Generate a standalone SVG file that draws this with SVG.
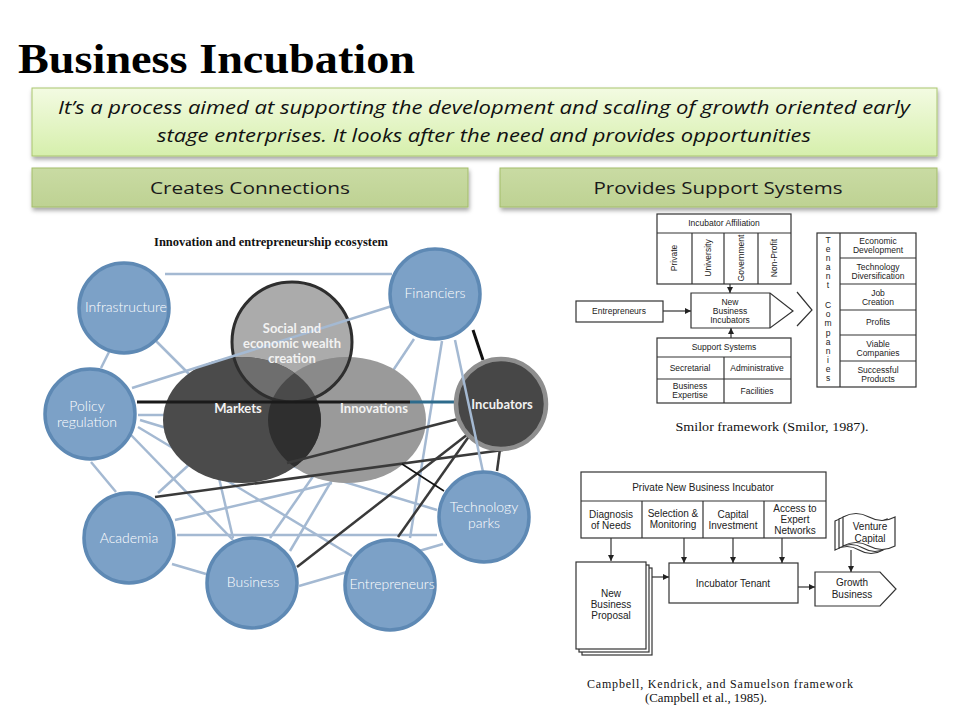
<svg xmlns="http://www.w3.org/2000/svg" width="960" height="720" viewBox="0 0 960 720">
<defs>
<linearGradient id="gBox" x1="0" y1="0" x2="0" y2="1">
<stop offset="0" stop-color="#f3fbe2"/>
<stop offset="1" stop-color="#d6efac"/>
</linearGradient>
<linearGradient id="gBtn" x1="0" y1="0" x2="0" y2="1">
<stop offset="0" stop-color="#c9dba3"/>
<stop offset="1" stop-color="#bed293"/>
</linearGradient>
<filter id="sh" x="-5%" y="-20%" width="110%" height="150%">
<feDropShadow dx="1" dy="3" stdDeviation="2" flood-color="#000" flood-opacity="0.35"/>
</filter>
<clipPath id="clipMk"><ellipse cx="242" cy="420" rx="79" ry="63"/></clipPath>
<clipPath id="clipSo"><circle cx="292" cy="342" r="61"/></clipPath>
<marker id="ah" viewBox="0 0 6 6" refX="6" refY="3" markerWidth="5" markerHeight="5" orient="auto">
<path d="M0,0 L6,3 L0,6 Z" fill="#222"/>
</marker>
<style>
.hd{font-family:"Liberation Serif","Times New Roman",serif;font-weight:bold;fill:#000}
.it{font-family:"Open Sans","Liberation Sans",sans-serif;font-style:italic;font-size:18px;fill:#111;text-anchor:middle}
.bt{font-family:"Open Sans","Liberation Sans",sans-serif;font-size:17px;fill:#1a1a1a;text-anchor:middle}
.lb{stroke:#a4b9d2;stroke-width:2.5;fill:none}
.dk{stroke:#3a3a3a;stroke-width:2.5;fill:none}
.nd{fill:#7ca1c7;stroke:#5e89b4;stroke-width:3.5}
.nt{font-family:"Lato","Open Sans",sans-serif;font-weight:300;font-size:14px;fill:#fff;text-anchor:middle}
.vt{font-family:"Lato","Open Sans",sans-serif;font-weight:bold;font-size:13px;fill:#f2f2f2;text-anchor:middle}
.bx{fill:#fff;stroke:#333;stroke-width:1.2}
.ln{stroke:#333;stroke-width:1.2;fill:none}
.sm{font-family:"Liberation Sans",Arial,sans-serif;font-size:8.5px;fill:#222;text-anchor:middle}
.cb{font-family:"Liberation Sans",Arial,sans-serif;font-size:10px;fill:#222;text-anchor:middle}
.cap{font-family:"Liberation Serif","Times New Roman",serif;font-size:12px;fill:#111;text-anchor:middle}
</style>
</defs>
<rect width="960" height="720" fill="#fff"/>

<g id="title">
<text class="hd" x="18" y="73" font-size="42" textLength="397" lengthAdjust="spacingAndGlyphs">Business Incubation</text>
</g>

<g id="definition">
<rect x="32" y="88" width="905" height="68" fill="url(#gBox)" stroke="#a9c56f" stroke-width="1" filter="url(#sh)"/>
<text class="it" x="484" y="114" textLength="852" lengthAdjust="spacingAndGlyphs">It’s a process aimed at supporting the development and scaling of growth oriented early</text>
<text class="it" x="484" y="142" textLength="654" lengthAdjust="spacingAndGlyphs">stage enterprises. It looks after the need and provides opportunities</text>
</g>

<g id="btn-connections">
<rect x="32" y="168" width="436" height="39" fill="url(#gBtn)" stroke="#a3bd6a" stroke-width="1" filter="url(#sh)"/>
<text class="bt" x="250" y="194" textLength="200" lengthAdjust="spacingAndGlyphs">Creates Connections</text>
</g>
<g id="btn-support">
<rect x="500" y="168" width="437" height="39" fill="url(#gBtn)" stroke="#a3bd6a" stroke-width="1" filter="url(#sh)"/>
<text class="bt" x="718" y="194" textLength="249" lengthAdjust="spacingAndGlyphs">Provides Support Systems</text>
</g>

<!-- Ecosystem diagram -->
<text x="271" y="246" font-family="Liberation Serif,'Times New Roman',serif" font-weight="bold" font-size="12.5" fill="#111" text-anchor="middle">Innovation and entrepreneurship ecosystem</text>

<g id="connectors-back">
<line class="lb" x1="165" y1="274" x2="392" y2="274"/>
<line class="lb" x1="109" y1="352" x2="101" y2="368"/>
<line class="lb" x1="154" y1="339" x2="190" y2="375"/>
<line class="lb" x1="414" y1="339" x2="392" y2="372"/>
<line class="lb" x1="442" y1="341" x2="410" y2="538"/>
<line class="lb" x1="138" y1="415" x2="170" y2="415"/>
<line class="lb" x1="138" y1="427" x2="352" y2="556"/>
<line class="lb" x1="131" y1="435" x2="233" y2="540"/>
<line class="lb" x1="91" y1="462" x2="116" y2="492"/>
<line class="lb" x1="140" y1="420" x2="437" y2="510"/>
<line class="lb" x1="177" y1="535" x2="437" y2="535"/>
<line class="lb" x1="175" y1="520" x2="332" y2="483"/>
<line class="lb" x1="158" y1="493" x2="192" y2="462"/>
<line class="lb" x1="172" y1="564" x2="206" y2="574"/>
<line class="lb" x1="233" y1="538" x2="219" y2="478"/>
<line class="lb" x1="270" y1="538" x2="314" y2="475"/>
<line class="lb" x1="290" y1="551" x2="332" y2="480"/>
<line class="lb" x1="299" y1="586" x2="443" y2="544"/>
</g>

<g id="venn">
<circle cx="292" cy="342" r="61" fill="#ababab"/>
<ellipse cx="347" cy="420" rx="79" ry="63" fill="#9a9a9a"/>
<ellipse cx="242" cy="420" rx="79" ry="63" fill="#4b4b4b"/>
<ellipse cx="347" cy="420" rx="79" ry="63" fill="#2f2f2f" clip-path="url(#clipMk)"/>
<g clip-path="url(#clipSo)">
<ellipse cx="347" cy="420" rx="79" ry="63" fill="#8a8a8a"/>
<ellipse cx="242" cy="420" rx="79" ry="63" fill="#6e6e6e"/>
<ellipse cx="347" cy="420" rx="79" ry="63" fill="#4a4a4a" clip-path="url(#clipMk)"/>
</g>
<circle cx="292" cy="342" r="60" fill="none" stroke="#2e2e2e" stroke-width="3"/>
</g>

<g id="connectors-front">
<line class="lb" x1="392" y1="306" x2="132" y2="388"/>
<line x1="473" y1="330" x2="483" y2="360" stroke="#111" stroke-width="3"/>
<line x1="137" y1="402" x2="410" y2="402" stroke="#1a1a1a" stroke-width="3"/>
<line x1="410" y1="402" x2="456" y2="402" stroke="#2d6b8c" stroke-width="3"/>
<line class="dk" x1="287" y1="463" x2="458" y2="419"/>
<line class="dk" x1="155" y1="497" x2="503" y2="450"/>
<line class="dk" x1="297" y1="567" x2="468" y2="434"/>
<line class="dk" x1="398" y1="537" x2="472" y2="432"/>
<line class="dk" x1="500" y1="449" x2="497" y2="471"/>
<line x1="402" y1="464" x2="444" y2="491" stroke="#111" stroke-width="1.5"/>
</g>

<g id="venn-labels">
<text class="vt" x="292" y="333" font-size="11">Social and</text>
<text class="vt" x="292" y="348" font-size="11">economic wealth</text>
<text class="vt" x="292" y="363" font-size="11">creation</text>
<text class="vt" x="238" y="413">Markets</text>
<text class="vt" x="374" y="413">Innovations</text>
</g>

<g id="node-incubators">
<circle cx="501" cy="404" r="45" fill="#474747" stroke="#8e8e8e" stroke-width="4.5"/>
<text class="vt" x="502" y="409" font-size="15">Incubators</text>
</g>
<line class="lb" x1="455" y1="340" x2="483" y2="472"/>

<g id="node-infrastructure"><circle class="nd" cx="124" cy="308" r="45"/><text class="nt" x="126" y="312">Infrastructure</text></g>
<g id="node-financiers"><circle class="nd" cx="435" cy="294" r="45"/><text class="nt" x="435" y="298">Financiers</text></g>
<g id="node-policy"><circle class="nd" cx="90" cy="414" r="45"/><text class="nt" x="87" y="411" font-size="13.5">Policy</text><text class="nt" x="87" y="427" font-size="13.5">regulation</text></g>
<g id="node-academia"><circle class="nd" cx="129" cy="538" r="45"/><text class="nt" x="129" y="543">Academia</text></g>
<g id="node-business"><circle class="nd" cx="252" cy="583" r="45"/><text class="nt" x="253" y="587">Business</text></g>
<g id="node-entrepreneurs"><circle class="nd" cx="390" cy="585" r="45"/><text class="nt" x="392" y="589">Entrepreneurs</text></g>
<g id="node-techparks"><circle class="nd" cx="484" cy="517" r="45"/><text class="nt" x="484" y="512" font-size="13.5">Technology</text><text class="nt" x="484" y="528" font-size="13.5">parks</text></g>

<!-- Smilor framework -->
<g id="smilor-affiliation">
<rect class="bx" x="657" y="214" width="134" height="70"/>
<line class="ln" x1="657" y1="233" x2="791" y2="233"/>
<line class="ln" x1="692" y1="233" x2="692" y2="284"/>
<line class="ln" x1="724" y1="233" x2="724" y2="284"/>
<line class="ln" x1="758" y1="233" x2="758" y2="284"/>
<text class="sm" x="724" y="226">Incubator Affiliation</text>
<text class="sm" transform="translate(677,258) rotate(-90)">Private</text>
<text class="sm" transform="translate(711,258) rotate(-90)">University</text>
<text class="sm" transform="translate(744,258) rotate(-90)">Government</text>
<text class="sm" transform="translate(777,258) rotate(-90)">Non-Profit</text>
</g>
<g id="smilor-nbi">
<path class="bx" d="M691,293 L770,293 L793,311 L770,328 L691,328 Z"/>
<line class="ln" x1="770" y1="293" x2="770" y2="328"/>
<text class="sm" x="730" y="305">New</text>
<text class="sm" x="730" y="314">Business</text>
<text class="sm" x="730" y="323">Incubators</text>
</g>
<g id="smilor-entrepreneurs">
<rect class="bx" x="576" y="301" width="87" height="21"/>
<text class="sm" x="619" y="314">Entrepreneurs</text>
</g>
<g id="smilor-support">
<rect class="bx" x="657" y="338" width="134" height="65"/>
<line class="ln" x1="657" y1="357" x2="791" y2="357"/>
<line class="ln" x1="657" y1="379" x2="791" y2="379"/>
<line class="ln" x1="724" y1="357" x2="724" y2="403"/>
<text class="sm" x="724" y="350">Support Systems</text>
<text class="sm" x="690" y="371">Secretarial</text>
<text class="sm" x="757" y="371">Administrative</text>
<text class="sm" x="690" y="389">Business</text>
<text class="sm" x="690" y="398">Expertise</text>
<text class="sm" x="757" y="394">Facilities</text>
</g>
<g id="smilor-tenant">
<rect class="bx" x="817" y="233" width="99" height="154"/>
<line class="ln" x1="840" y1="233" x2="840" y2="387"/>
<line class="ln" x1="840" y1="258" x2="916" y2="258"/>
<line class="ln" x1="840" y1="284" x2="916" y2="284"/>
<line class="ln" x1="840" y1="310" x2="916" y2="310"/>
<line class="ln" x1="840" y1="335" x2="916" y2="335"/>
<line class="ln" x1="840" y1="361" x2="916" y2="361"/>
<text class="sm" x="828" y="243">T</text><text class="sm" x="828" y="252">e</text><text class="sm" x="828" y="261">n</text><text class="sm" x="828" y="270">a</text><text class="sm" x="828" y="279">n</text><text class="sm" x="828" y="288">t</text>
<text class="sm" x="828" y="308">C</text><text class="sm" x="828" y="317">o</text><text class="sm" x="828" y="326">m</text><text class="sm" x="828" y="336">p</text><text class="sm" x="828" y="345">a</text><text class="sm" x="828" y="354">n</text><text class="sm" x="828" y="363">i</text><text class="sm" x="828" y="372">e</text><text class="sm" x="828" y="381">s</text>
<text class="sm" x="878" y="244">Economic</text><text class="sm" x="878" y="253">Development</text>
<text class="sm" x="878" y="270">Technology</text><text class="sm" x="878" y="279">Diversification</text>
<text class="sm" x="878" y="296">Job</text><text class="sm" x="878" y="305">Creation</text>
<text class="sm" x="878" y="325">Profits</text>
<text class="sm" x="878" y="347">Viable</text><text class="sm" x="878" y="356">Companies</text>
<text class="sm" x="878" y="373">Successful</text><text class="sm" x="878" y="382">Products</text>
</g>
<g id="smilor-connectors">
<line class="ln" x1="730" y1="284" x2="730" y2="293" marker-end="url(#ah)"/>
<line class="ln" x1="663" y1="311" x2="691" y2="311" marker-end="url(#ah)"/>
<line class="ln" x1="731" y1="338" x2="731" y2="328" marker-end="url(#ah)"/>
<polyline class="ln" points="797,292 812,310 797,326"/>
</g>
<text class="cap" x="772" y="431" textLength="193" lengthAdjust="spacingAndGlyphs">Smilor framework (Smilor, 1987).</text>

<!-- Campbell framework -->
<g id="cks-incubator">
<rect class="bx" x="581" y="472" width="245" height="66"/>
<line class="ln" x1="581" y1="501" x2="826" y2="501"/>
<line class="ln" x1="642" y1="501" x2="642" y2="538"/>
<line class="ln" x1="703" y1="501" x2="703" y2="538"/>
<line class="ln" x1="764" y1="501" x2="764" y2="538"/>
<text class="cb" x="703" y="491">Private New Business Incubator</text>
<text class="cb" x="611" y="518">Diagnosis</text><text class="cb" x="611" y="529">of Needs</text>
<text class="cb" x="673" y="517">Selection &amp;</text><text class="cb" x="673" y="528">Monitoring</text>
<text class="cb" x="733" y="518">Capital</text><text class="cb" x="733" y="529">Investment</text>
<text class="cb" x="795" y="512">Access to</text><text class="cb" x="795" y="523">Expert</text><text class="cb" x="795" y="534">Networks</text>
</g>
<g id="cks-proposal">
<rect class="bx" x="582" y="568" width="70" height="87"/>
<rect class="bx" x="579" y="565" width="70" height="87"/>
<rect class="bx" x="576" y="562" width="70" height="87"/>
<text class="cb" x="611" y="597">New</text>
<text class="cb" x="611" y="608">Business</text>
<text class="cb" x="611" y="619">Proposal</text>
</g>
<g id="cks-tenant">
<rect class="bx" x="669" y="563" width="129" height="40"/>
<text class="cb" x="733" y="587">Incubator Tenant</text>
</g>
<g id="cks-venture">
<path class="bx" d="M835,521 Q847,514 859,521 T883,521 L883,550 Q871,557 859,550 T835,550 Z"/>
<path class="bx" d="M839,519 Q851,512 863,519 T887,519 L887,548 Q875,555 863,548 T839,548 Z"/>
<path class="bx" d="M843,517 Q856,510 869,517 T895,517 L895,546 Q882,553 869,546 T843,546 Z"/>
<text class="cb" x="870" y="530">Venture</text>
<text class="cb" x="870" y="542">Capital</text>
</g>
<g id="cks-growth">
<path class="bx" d="M815,572 L880,572 L896,589 L880,606 L815,606 Z"/>
<text class="cb" x="852" y="586">Growth</text>
<text class="cb" x="852" y="598">Business</text>
</g>
<g id="cks-connectors">
<line class="ln" x1="611" y1="538" x2="611" y2="561" marker-end="url(#ah)"/>
<line class="ln" x1="684" y1="538" x2="684" y2="563" marker-end="url(#ah)"/>
<line class="ln" x1="733" y1="538" x2="733" y2="563" marker-end="url(#ah)"/>
<line class="ln" x1="782" y1="538" x2="782" y2="563" marker-end="url(#ah)"/>
<line class="ln" x1="652" y1="577" x2="669" y2="577" marker-end="url(#ah)"/>
<line class="ln" x1="798" y1="587" x2="815" y2="587" marker-end="url(#ah)"/>
<line class="ln" x1="851" y1="550" x2="851" y2="572" marker-end="url(#ah)"/>
</g>
<text class="cap" x="720" y="688" textLength="266" lengthAdjust="spacing">Campbell, Kendrick, and Samuelson framework</text>
<text class="cap" x="706" y="702" textLength="122" lengthAdjust="spacingAndGlyphs">(Campbell et al., 1985).</text>
</svg>
